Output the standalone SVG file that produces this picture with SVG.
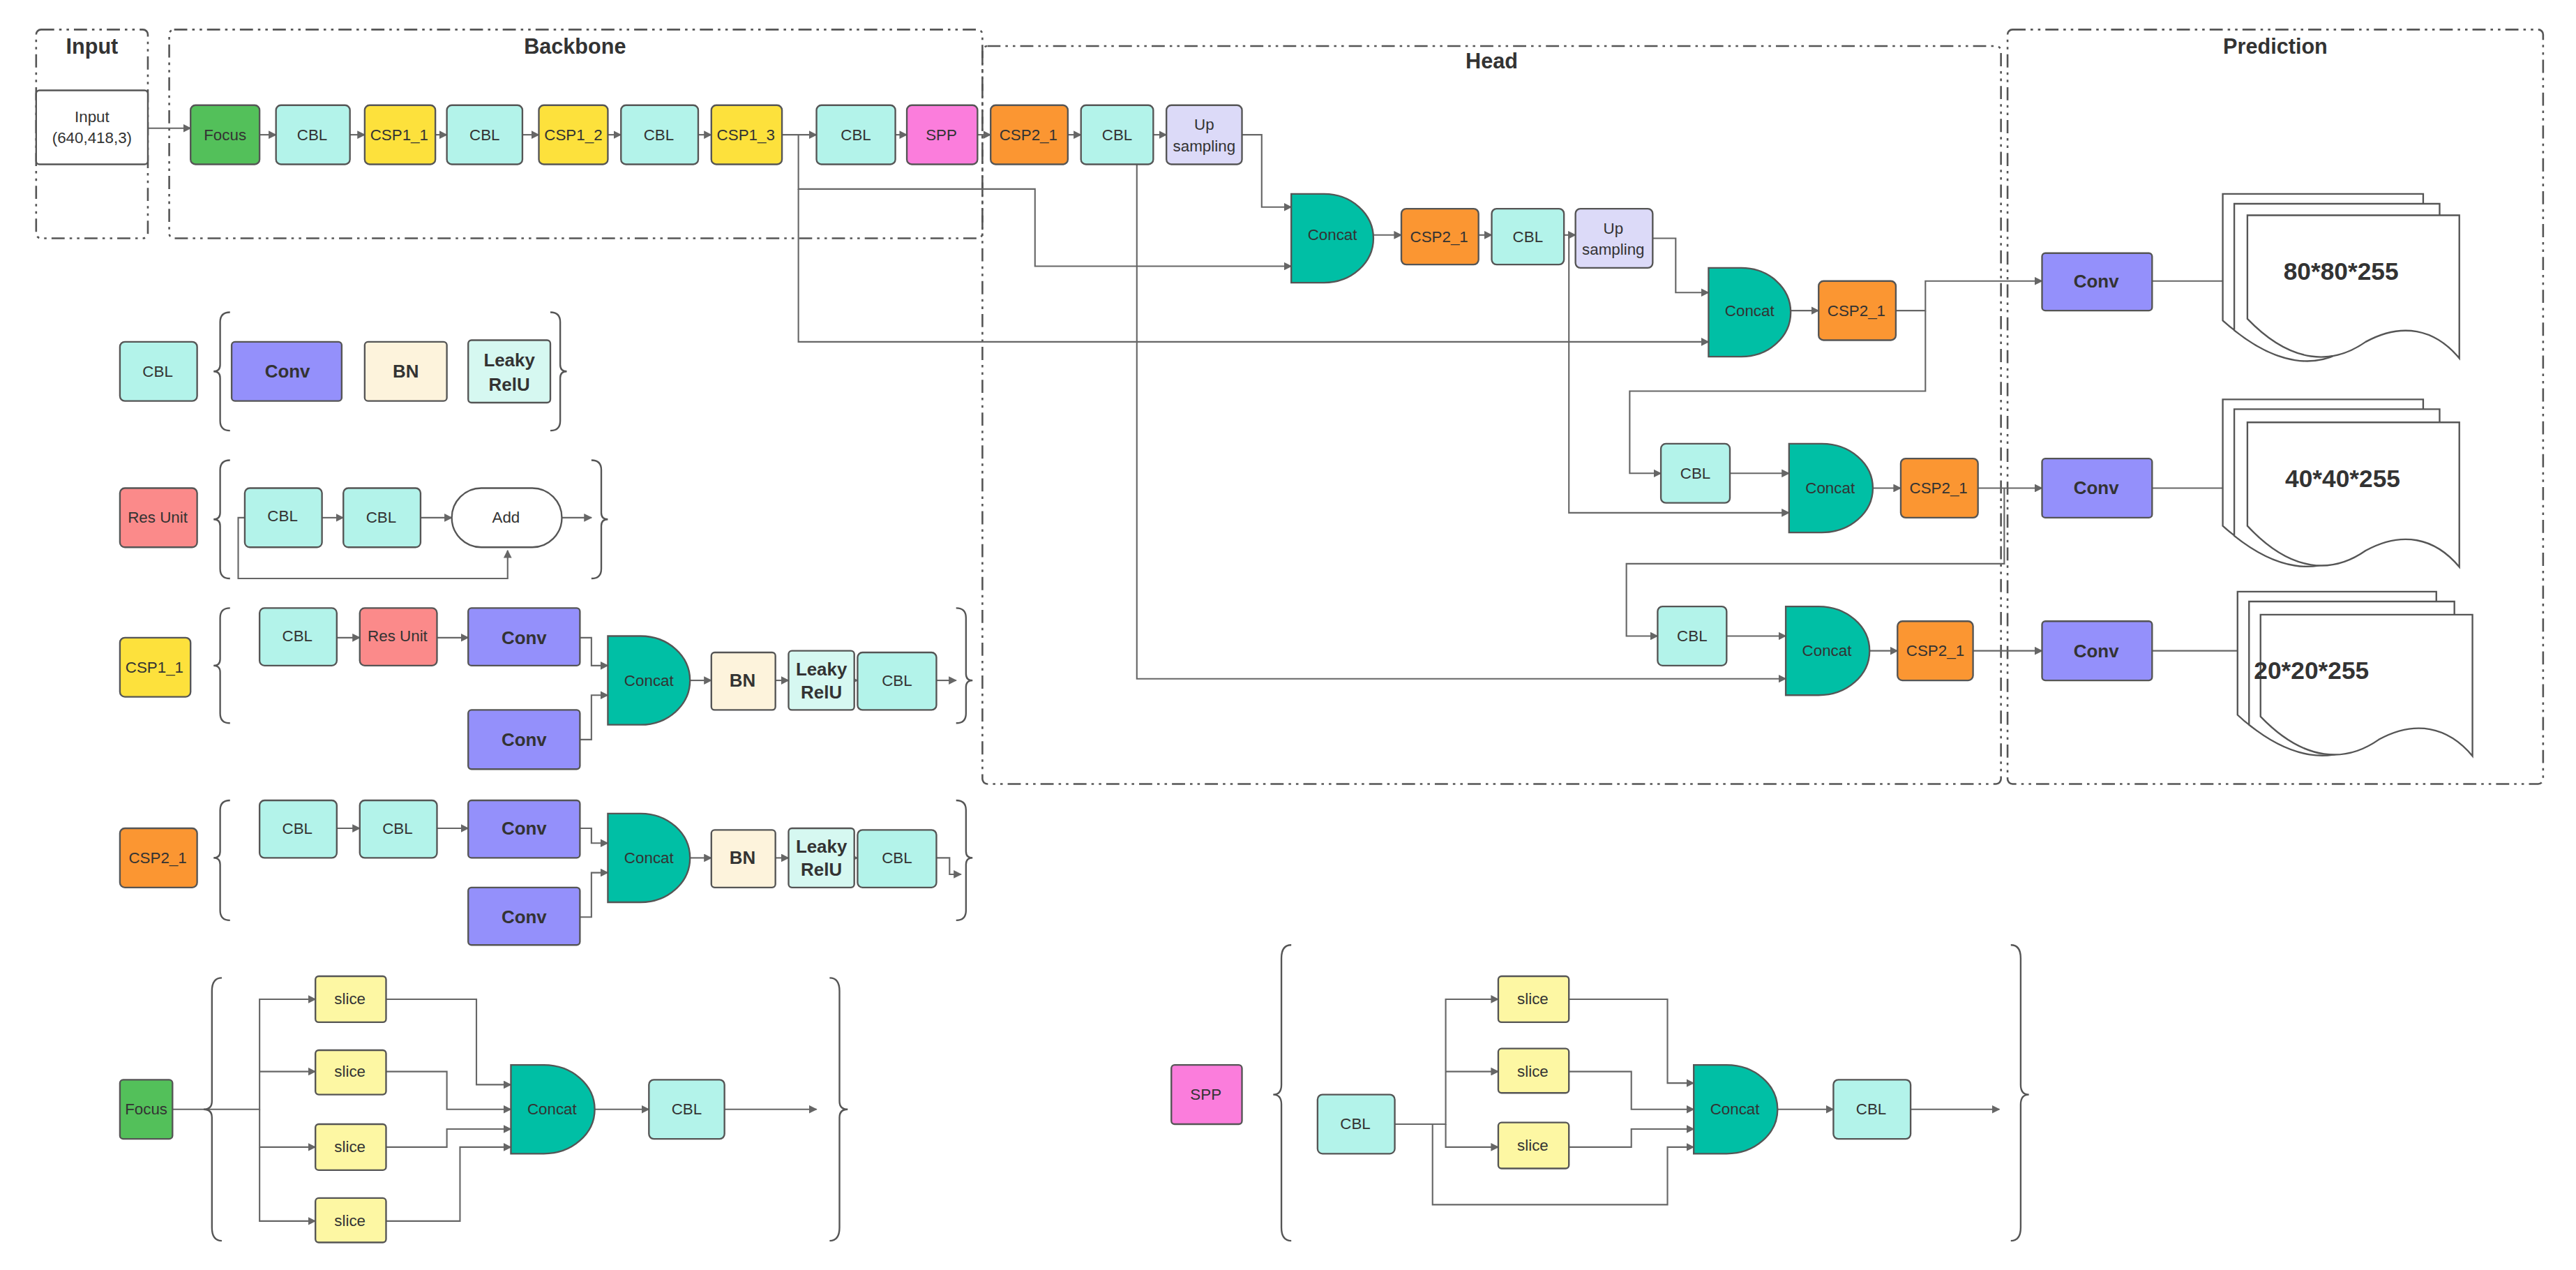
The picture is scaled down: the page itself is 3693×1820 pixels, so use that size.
<svg xmlns="http://www.w3.org/2000/svg" width="3693" height="1820" viewBox="0 0 3693 1820">
<defs>
<marker id="ar" viewBox="0 0 10 10" refX="9" refY="5" markerWidth="5" markerHeight="5" orient="auto-start-reverse" markerUnits="userSpaceOnUse"><path d="M0,0 L10,5 L0,10 z" fill="#666"/></marker>
<style>
text{font-family:"Liberation Sans",Arial,sans-serif;fill:#333;font-size:9.5px;text-anchor:middle;dominant-baseline:central}
.b{font-weight:bold;font-size:11px}
.t{font-weight:bold;font-size:13px}
.d{font-weight:bold;font-size:15px}
rect.n,path.n{stroke:#555;stroke-width:1}
.grp{fill:none;stroke:#555;stroke-width:1.1;stroke-dasharray:8 3 1.5 3 1.5 3}
.br{fill:none;stroke:#555;stroke-width:1}
#conn path{fill:none;stroke:#666;stroke-width:0.9;marker-end:url(#ar)}
.cbl{fill:#b3f3ea}.conv{fill:#9490fb}.bn{fill:#fdf3dc}.lk{fill:#d6f8f1}.y{fill:#fde13c}.g{fill:#53c05a}.pk{fill:#fb7ddc}.o{fill:#fb9632}.up{fill:#dcdaf8}.cc{fill:#00bfa5}.ru{fill:#fb8a8a}.sl{fill:#fdf7a3}.w{fill:#fff}
.doc{fill:#fff;stroke:#555;stroke-width:1}
</style>
</defs>
<rect width="3693" height="1820" fill="#fff"/>
<g transform="scale(2.3552)">
<g id="groups">
<rect class="grp" x="22" y="18" width="68" height="127" rx="3"/><text class="t" x="56" y="28">Input</text>
<rect class="grp" x="103" y="18" width="495" height="127" rx="3"/><text class="t" x="350" y="28">Backbone</text>
<rect class="grp" x="598" y="28" width="620" height="449" rx="3"/><text class="t" x="908" y="37">Head</text>
<rect class="grp" x="1222" y="18" width="326" height="459" rx="3"/><text class="t" x="1385" y="28">Prediction</text>
</g>
<g id="conn">
<path d="M90,78 H116"/>
<path d="M158,82 H168"/><path d="M213,82 H222"/><path d="M265,82 H272"/><path d="M318,82 H328"/><path d="M370,82 H378"/><path d="M425,82 H433"/><path d="M476,82 H497"/><path d="M545,82 H552"/><path d="M595,82 H603"/><path d="M650,82 H658"/><path d="M702,82 H710"/>
<path d="M486,82 V115 H630 V162 H786"/>
<path d="M486,115 V208 H1040"/>
<path d="M756,82 H768 V126 H786"/>
<path d="M692,82 H702 M692,82 V413 H1087"/>
<path d="M836,143 H853"/><path d="M900,143 H908"/><path d="M952,143 H959"/>
<path d="M955,143 V312 H1089"/>
<path d="M1006,145 H1020 V178 H1040"/>
<path d="M1090,189 H1107"/>
<path d="M1154,189 H1172 V171 H1243"/>
<path d="M1172,189 V238 H992 V288 H1011"/>
<path d="M1053,288 H1089"/><path d="M1140,297 H1157"/><path d="M1204,297 H1243"/>
<path d="M1220,297 V343 H990 V387 H1009"/>
<path d="M1051,387 H1087"/><path d="M1138,396 H1155"/><path d="M1201,396 H1243"/>
<path d="M1310,171 H1360"/><path d="M1310,297 H1360"/><path d="M1310,396 H1368"/>
<path d="M196,315 H209"/><path d="M256,315 H275"/><path d="M342,315 H360"/>
<path d="M149,315 H145 V352 H309 V335"/>
<path d="M205,388 H219"/><path d="M266,388 H285"/>
<path d="M353,388 H360 V405 H370"/><path d="M353,450 H360 V423 H370"/>
<path d="M420,414 H433"/><path d="M472,414 H480"/><path d="M520,414 H522"/><path d="M570,414 H582"/>
<path d="M205,504 H219"/><path d="M266,504 H285"/>
<path d="M353,504 H360 V513 H370"/><path d="M353,558 H360 V531 H370"/>
<path d="M420,522 H433"/><path d="M472,522 H480"/><path d="M520,522 H522"/><path d="M570,522 H578 V532 H585"/>
<path d="M105,675 H158 V608 H192"/><path d="M158,652 H192"/><path d="M158,675 V698 H192"/><path d="M158,698 V743 H192"/>
<path d="M235,608 H290 V660 H311"/><path d="M235,652 H272 V675 H311"/><path d="M235,698 H272 V687 H311"/><path d="M235,743 H280 V698 H311"/>
<path d="M362,675 H395"/><path d="M441,675 H497"/>
<path d="M849,684 H880 V608 H912"/><path d="M880,652 H912"/><path d="M880,684 V698 H912"/>
<path d="M872,684 V733 H1015 V698 H1031"/>
<path d="M955,608 H1015 V659 H1031"/><path d="M955,652 H993 V675 H1031"/><path d="M955,698 H993 V687 H1031"/>
<path d="M1082,675 H1116"/><path d="M1163,675 H1217"/>
</g>
<g id="braces">
<path class="br" d="M140,190 Q134,190 134,196 V222 Q134,226 130,226 Q134,226 134,230 V256 Q134,262 140,262"/>
<path class="br" d="M335,190 Q341,190 341,196 V222 Q341,226 345,226 Q341,226 341,230 V256 Q341,262 335,262"/>
<path class="br" d="M140,280 Q134,280 134,286 V312 Q134,316 130,316 Q134,316 134,320 V346 Q134,352 140,352"/>
<path class="br" d="M360,280 Q366,280 366,286 V312 Q366,316 370,316 Q366,316 366,320 V346 Q366,352 360,352"/>
<path class="br" d="M140,370 Q134,370 134,376 V401 Q134,405 130,405 Q134,405 134,409 V434 Q134,440 140,440"/>
<path class="br" d="M582,370 Q588,370 588,376 V410 Q588,414 592,414 Q588,414 588,418 V434 Q588,440 582,440"/>
<path class="br" d="M140,487 Q134,487 134,493 V518 Q134,522 130,522 Q134,522 134,526 V554 Q134,560 140,560"/>
<path class="br" d="M582,487 Q588,487 588,493 V518 Q588,522 592,522 Q588,522 588,526 V554 Q588,560 582,560"/>
<path class="br" d="M135,595 Q129,595 129,603 V670 Q129,675 124,675 Q129,675 129,680 V747 Q129,755 135,755"/>
<path class="br" d="M505,595 Q511,595 511,603 V670 Q511,675 516,675 Q511,675 511,680 V747 Q511,755 505,755"/>
<path class="br" d="M786,575 Q780,575 780,583 V660 Q780,666 775,666 Q780,666 780,672 V747 Q780,755 786,755"/>
<path class="br" d="M1224,575 Q1230,575 1230,583 V660 Q1230,666 1235,666 Q1230,666 1230,672 V747 Q1230,755 1224,755"/>
</g>
<g id="n_input"><rect class="n w" x="22" y="55" width="68" height="45" rx="2"/><text x="56" y="71">Input</text><text x="56" y="84">(640,418,3)</text></g>
<g id="n_focus"><rect class="n g" x="116" y="64" width="42" height="36" rx="3"/><text x="137" y="82">Focus</text></g>
<g id="n_cbl1"><rect class="n cbl" x="168" y="64" width="45" height="36" rx="3"/><text x="190" y="82">CBL</text></g>
<g id="n_csp11"><rect class="n y" x="222" y="64" width="43" height="36" rx="3"/><text x="243" y="82">CSP1_1</text></g>
<g id="n_cbl2"><rect class="n cbl" x="272" y="64" width="46" height="36" rx="3"/><text x="295" y="82">CBL</text></g>
<g id="n_csp12"><rect class="n y" x="328" y="64" width="42" height="36" rx="3"/><text x="349" y="82">CSP1_2</text></g>
<g id="n_cbl3"><rect class="n cbl" x="378" y="64" width="47" height="36" rx="3"/><text x="401" y="82">CBL</text></g>
<g id="n_csp13"><rect class="n y" x="433" y="64" width="43" height="36" rx="3"/><text x="454" y="82">CSP1_3</text></g>
<g id="n_cbl4"><rect class="n cbl" x="497" y="64" width="48" height="36" rx="3"/><text x="521" y="82">CBL</text></g>
<g id="n_spp"><rect class="n pk" x="552" y="64" width="43" height="36" rx="3"/><text x="573" y="82">SPP</text></g>
<g id="n_csp21a"><rect class="n o" x="603" y="64" width="47" height="36" rx="3"/><text x="626" y="82">CSP2_1</text></g>
<g id="n_cbl5"><rect class="n cbl" x="658" y="64" width="44" height="36" rx="3"/><text x="680" y="82">CBL</text></g>
<g id="n_up1"><rect class="n up" x="710" y="64" width="46" height="36" rx="3"/><text x="733" y="76">Up</text><text x="733" y="89">sampling</text></g>
<g id="n_concat1"><path class="n cc" d="M786,118 H806 A30,27 0 0 1 806,172 H786 Z"/><text x="811" y="143">Concat</text></g>
<g id="n_csp21b"><rect class="n o" x="853" y="127" width="47" height="34" rx="3"/><text x="876" y="144">CSP2_1</text></g>
<g id="n_cbl6"><rect class="n cbl" x="908" y="127" width="44" height="34" rx="3"/><text x="930" y="144">CBL</text></g>
<g id="n_up2"><rect class="n up" x="959" y="127" width="47" height="36" rx="3"/><text x="982" y="139">Up</text><text x="982" y="152">sampling</text></g>
<g id="n_concat2"><path class="n cc" d="M1040,163 H1060 A30,27 0 0 1 1060,217 H1040 Z"/><text x="1065" y="189">Concat</text></g>
<g id="n_csp21c"><rect class="n o" x="1107" y="171" width="47" height="36" rx="3"/><text x="1130" y="189">CSP2_1</text></g>
<g id="n_cbl7"><rect class="n cbl" x="1011" y="270" width="42" height="36" rx="3"/><text x="1032" y="288">CBL</text></g>
<g id="n_concat3"><path class="n cc" d="M1089,270 H1109 A31,27 0 0 1 1109,324 H1089 Z"/><text x="1114" y="297">Concat</text></g>
<g id="n_csp21d"><rect class="n o" x="1157" y="279" width="47" height="36" rx="3"/><text x="1180" y="297">CSP2_1</text></g>
<g id="n_cbl8"><rect class="n cbl" x="1009" y="369" width="42" height="36" rx="3"/><text x="1030" y="387">CBL</text></g>
<g id="n_concat4"><path class="n cc" d="M1087,369 H1107 A31,27 0 0 1 1107,423 H1087 Z"/><text x="1112" y="396">Concat</text></g>
<g id="n_csp21e"><rect class="n o" x="1155" y="378" width="46" height="36" rx="3"/><text x="1178" y="396">CSP2_1</text></g>
<g id="n_conv1"><rect class="n conv" x="1243" y="154" width="67" height="35" rx="2"/><text class="b" x="1276" y="171">Conv</text></g>
<g id="n_conv2"><rect class="n conv" x="1243" y="279" width="67" height="36" rx="2"/><text class="b" x="1276" y="297">Conv</text></g>
<g id="n_conv3"><rect class="n conv" x="1243" y="378" width="67" height="36" rx="2"/><text class="b" x="1276" y="396">Conv</text></g>
<g id="n_out1">
<path class="doc" d="M1353,118 H1475 V200 C1460,190 1440,190 1420,205 C1400,220 1375,215 1353,195 Z"/>
<path class="doc" d="M1360,124 H1485 V206 C1470,196 1450,196 1430,211 C1410,226 1385,221 1360,201 Z"/>
<path class="doc" d="M1368,131 H1497 V218 C1482,200 1462,196 1440,208 C1420,222 1395,222 1368,194 Z"/>
<text class="d" x="1425" y="165">80*80*255</text></g>
<g id="n_out2">
<path class="doc" d="M1353,243 H1475 V325 C1460,315 1440,315 1420,330 C1400,345 1375,340 1353,320 Z"/>
<path class="doc" d="M1360,249 H1485 V331 C1470,321 1450,321 1430,336 C1410,351 1385,346 1360,326 Z"/>
<path class="doc" d="M1368,257 H1497 V345 C1482,327 1462,323 1440,335 C1420,349 1395,349 1368,320 Z"/>
<text class="d" x="1426" y="291">40*40*255</text></g>
<g id="n_out3">
<path class="doc" d="M1362,360 H1483 V440 C1468,430 1448,430 1428,445 C1408,460 1383,455 1362,435 Z"/>
<path class="doc" d="M1369,366 H1494 V446 C1479,436 1459,436 1439,451 C1419,466 1394,461 1369,441 Z"/>
<path class="doc" d="M1376,374 H1505 V460 C1490,442 1470,438 1448,450 C1428,464 1403,464 1376,436 Z"/>
<text class="d" x="1407" y="408">20*20*255</text></g>
<g id="leg_cbl">
<rect class="n cbl" x="73" y="208" width="47" height="36" rx="3"/><text x="96" y="226">CBL</text>
<rect class="n conv" x="141" y="208" width="67" height="36" rx="2"/><text class="b" x="175" y="226">Conv</text>
<rect class="n bn" x="222" y="208" width="50" height="36" rx="2"/><text class="b" x="247" y="226">BN</text>
<rect class="n lk" x="285" y="207" width="50" height="38" rx="2"/><text class="b" x="310" y="219">Leaky</text><text class="b" x="310" y="234">RelU</text>
</g>
<g id="leg_res">
<rect class="n ru" x="73" y="297" width="47" height="36" rx="3"/><text x="96" y="315">Res Unit</text>
<rect class="n cbl" x="149" y="297" width="47" height="36" rx="3"/><text x="172" y="314">CBL</text>
<rect class="n cbl" x="209" y="297" width="47" height="36" rx="3"/><text x="232" y="315">CBL</text>
<rect class="n w" x="275" y="297" width="67" height="36" rx="18"/><text x="308" y="315">Add</text>
</g>
<g id="leg_csp1">
<rect class="n y" x="73" y="388" width="43" height="36" rx="3"/><text x="94" y="406">CSP1_1</text>
<rect class="n cbl" x="158" y="370" width="47" height="35" rx="3"/><text x="181" y="387">CBL</text>
<rect class="n ru" x="219" y="370" width="47" height="35" rx="3"/><text x="242" y="387">Res Unit</text>
<rect class="n conv" x="285" y="370" width="68" height="35" rx="2"/><text class="b" x="319" y="388">Conv</text>
<rect class="n conv" x="285" y="432" width="68" height="36" rx="2"/><text class="b" x="319" y="450">Conv</text>
<path class="n cc" d="M370,387 H390 A30,27 0 0 1 390,441 H370 Z"/><text x="395" y="414">Concat</text>
<rect class="n bn" x="433" y="397" width="39" height="35" rx="2"/><text class="b" x="452" y="414">BN</text>
<rect class="n lk" x="480" y="396" width="40" height="36" rx="2"/><text class="b" x="500" y="407">Leaky</text><text class="b" x="500" y="421">RelU</text>
<rect class="n cbl" x="522" y="397" width="48" height="35" rx="3"/><text x="546" y="414">CBL</text>
</g>
<g id="leg_csp2">
<rect class="n o" x="73" y="504" width="47" height="36" rx="3"/><text x="96" y="522">CSP2_1</text>
<rect class="n cbl" x="158" y="487" width="47" height="35" rx="3"/><text x="181" y="504">CBL</text>
<rect class="n cbl" x="219" y="487" width="47" height="35" rx="3"/><text x="242" y="504">CBL</text>
<rect class="n conv" x="285" y="487" width="68" height="35" rx="2"/><text class="b" x="319" y="504">Conv</text>
<rect class="n conv" x="285" y="540" width="68" height="35" rx="2"/><text class="b" x="319" y="558">Conv</text>
<path class="n cc" d="M370,495 H390 A30,27 0 0 1 390,549 H370 Z"/><text x="395" y="522">Concat</text>
<rect class="n bn" x="433" y="505" width="39" height="35" rx="2"/><text class="b" x="452" y="522">BN</text>
<rect class="n lk" x="480" y="504" width="40" height="36" rx="2"/><text class="b" x="500" y="515">Leaky</text><text class="b" x="500" y="529">RelU</text>
<rect class="n cbl" x="522" y="505" width="48" height="35" rx="3"/><text x="546" y="522">CBL</text>
</g>
<g id="leg_focus">
<rect class="n g" x="73" y="657" width="32" height="36" rx="2"/><text x="89" y="675">Focus</text>
<rect class="n sl" x="192" y="594" width="43" height="28" rx="2"/><text x="213" y="608">slice</text>
<rect class="n sl" x="192" y="639" width="43" height="27" rx="2"/><text x="213" y="652">slice</text>
<rect class="n sl" x="192" y="684" width="43" height="28" rx="2"/><text x="213" y="698">slice</text>
<rect class="n sl" x="192" y="729" width="43" height="27" rx="2"/><text x="213" y="743">slice</text>
<path class="n cc" d="M311,648 H331 A31,27 0 0 1 331,702 H311 Z"/><text x="336" y="675">Concat</text>
<rect class="n cbl" x="395" y="657" width="46" height="36" rx="3"/><text x="418" y="675">CBL</text>
</g>
<g id="leg_spp">
<rect class="n pk" x="713" y="648" width="43" height="36" rx="2"/><text x="734" y="666">SPP</text>
<rect class="n cbl" x="802" y="666" width="47" height="36" rx="3"/><text x="825" y="684">CBL</text>
<rect class="n sl" x="912" y="594" width="43" height="28" rx="2"/><text x="933" y="608">slice</text>
<rect class="n sl" x="912" y="638" width="43" height="27" rx="2"/><text x="933" y="652">slice</text>
<rect class="n sl" x="912" y="683" width="43" height="28" rx="2"/><text x="933" y="697">slice</text>
<path class="n cc" d="M1031,648 H1051 A31,27 0 0 1 1051,702 H1031 Z"/><text x="1056" y="675">Concat</text>
<rect class="n cbl" x="1116" y="657" width="47" height="36" rx="3"/><text x="1139" y="675">CBL</text>
</g>
</g>
</svg>
